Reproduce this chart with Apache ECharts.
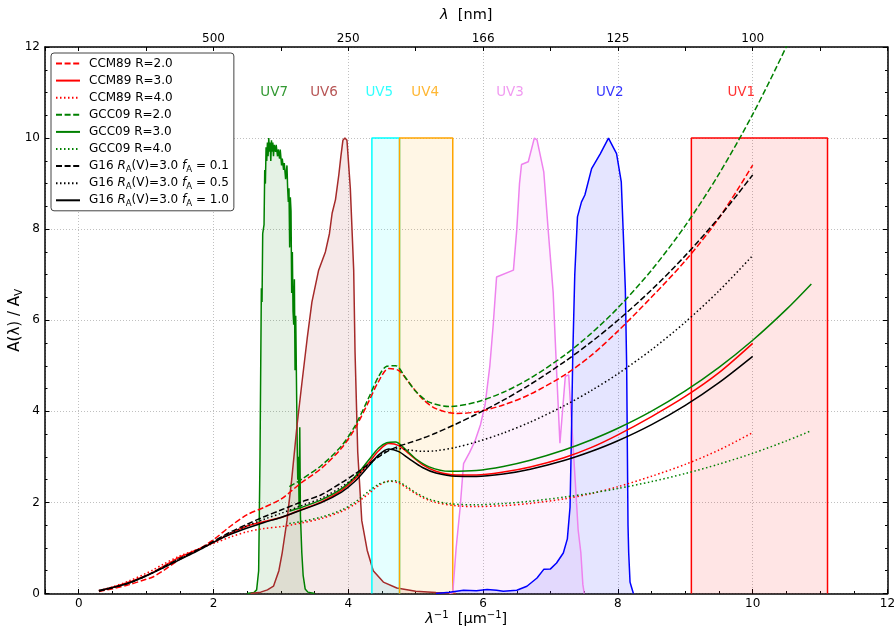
<!DOCTYPE html>
<html><head><meta charset="utf-8">
<script src="https://cdn.jsdelivr.net/npm/echarts@6/dist/echarts.min.js"></script>
<style>html,body{margin:0;padding:0;background:#fff}#c{width:895px;height:627px}</style>
</head><body><div id="c"></div>
<script>
// ---------------- data ----------------
const xCCM = [0.3,0.5,0.75,1.0,1.1,1.25,1.5,1.75,2.0,2.25,2.5,2.75,3.0,3.15,3.3,3.6,3.9,4.1,4.3,4.45,4.6,4.75,4.9,5.1,5.3,5.6,5.9,6.3,6.7,7.2,7.6,8.0,8.5,9.0,9.5,10.0];
const ccmR2 = [0.045,0.102,0.195,0.311,0.362,0.496,0.748,0.941,1.181,1.477,1.730,1.891,2.069,2.245,2.429,2.747,3.193,3.627,4.205,4.660,4.940,4.895,4.632,4.274,4.059,3.954,3.987,4.139,4.377,4.789,5.222,5.762,6.509,7.307,8.243,9.407];
const ccmR3 = [0.057,0.131,0.251,0.398,0.464,0.591,0.799,0.956,1.126,1.318,1.481,1.580,1.668,1.751,1.840,2.013,2.265,2.518,2.862,3.133,3.292,3.247,3.068,2.830,2.685,2.601,2.602,2.666,2.777,2.981,3.202,3.484,3.885,4.326,4.848,5.491];
const ccmR4 = [0.064,0.145,0.278,0.442,0.516,0.639,0.824,0.963,1.098,1.239,1.356,1.425,1.468,1.504,1.546,1.646,1.801,1.964,2.190,2.369,2.469,2.424,2.286,2.108,1.998,1.925,1.909,1.929,1.978,2.077,2.192,2.345,2.574,2.836,3.150,3.533];

const xGCC = [3.125,3.3,3.6,3.9,4.1,4.3,4.45,4.57,4.7,4.85,5.0,5.2,5.5,5.9,6.3,6.7,7.2,7.6,8.0,8.5,9.0,9.5,10.0,10.5,10.87];
const gccR2 = [2.346,2.501,2.811,3.243,3.683,4.289,4.767,4.989,5.003,4.737,4.440,4.203,4.105,4.203,4.419,4.727,5.222,5.706,6.271,7.101,8.078,9.213,10.521,12.012,13.242];
const gccR3 = [1.807,1.888,2.056,2.303,2.565,2.927,3.195,3.309,3.327,3.162,2.959,2.781,2.683,2.700,2.790,2.926,3.151,3.371,3.628,4.005,4.449,4.965,5.560,6.238,6.797];
const gccR4 = [1.537,1.581,1.678,1.833,2.006,2.241,2.399,2.454,2.474,2.365,2.214,2.070,1.972,1.949,1.975,2.026,2.115,2.203,2.306,2.457,2.635,2.841,3.079,3.351,3.575];

const xG16 = [0.3,0.5,0.75,1.0,1.25,1.5,1.75,2.0,2.25,2.5,2.75,3.0,3.3,3.6,3.9,4.1,4.3,4.45,4.6,4.75,4.9,5.1,5.3,5.6,5.9,6.3,6.7,7.2,7.6,8.0,8.5,9.0,9.5,10.0];
const g16f01 = [0.052,0.128,0.229,0.39,0.577,0.769,0.949,1.146,1.349,1.522,1.686,1.832,2.009,2.168,2.433,2.627,2.840,3.002,3.137,3.233,3.307,3.407,3.524,3.723,3.936,4.245,4.592,5.081,5.518,5.999,6.669,7.419,8.258,9.192];
const g16f05 = [0.058,0.129,0.232,0.387,0.569,0.758,0.939,1.136,1.327,1.486,1.63,1.76,1.925,2.091,2.342,2.555,2.820,3.021,3.153,3.181,3.153,3.122,3.134,3.211,3.328,3.524,3.764,4.121,4.451,4.824,5.354,5.959,6.646,7.421];
const g16f10 = [0.067,0.13,0.235,0.385,0.56,0.745,0.926,1.123,1.299,1.44,1.56,1.67,1.83,1.995,2.228,2.465,2.794,3.045,3.173,3.116,2.960,2.766,2.646,2.573,2.568,2.622,2.728,2.920,3.118,3.355,3.710,4.133,4.631,5.208];

// filter response curves (scaled to peak 10)
const uv7x = [2.50,2.60,2.64,2.67,2.69,2.71,2.72,2.73,2.75,2.76,2.77,2.78,2.79,2.80,2.81,2.82,2.83,2.84,2.85,2.86,2.87,2.88,2.89,2.90,2.92,2.93,2.95,2.96,2.98,2.99,3.01,3.02,3.04,3.05,3.07,3.09,3.10,3.11,3.12,3.13,3.14,3.15,3.16,3.17,3.18,3.19,3.20,3.21,3.22,3.23,3.24,3.25,3.26,3.27,3.28,3.29,3.31,3.33,3.36,3.40,3.50];
const uv7y = [0,0.02,0.08,0.5,3.0,6.7,6.4,7.9,8.1,9.3,9.0,9.8,9.5,9.9,9.6,10.0,9.7,9.9,9.5,9.95,9.7,9.9,9.6,9.85,9.7,9.85,9.6,9.75,9.55,9.75,9.4,9.55,9.3,9.45,9.1,9.4,8.9,8.6,8.9,7.6,8.7,8.4,6.6,7.5,6.2,5.9,6.9,4.9,6.1,4.8,3.5,2.5,3.0,1.9,3.65,1.7,0.9,0.4,0.1,0.03,0];
const uv6x = [2.55,2.70,2.80,2.89,2.97,3.02,3.09,3.16,3.24,3.31,3.39,3.46,3.56,3.66,3.72,3.76,3.81,3.86,3.89,3.92,3.95,3.98,4.03,4.08,4.10,4.14,4.20,4.28,4.37,4.52,4.72,5.00,5.30,5.60];
const uv6y = [0,0.03,0.08,0.16,0.5,0.9,1.6,2.5,3.7,4.6,5.6,6.4,7.1,7.5,7.9,8.35,8.65,9.2,9.6,9.95,10.0,9.95,8.9,7.1,5.3,3.1,1.6,0.95,0.5,0.25,0.12,0.05,0.02,0];
const uv3x = [5.50,5.55,5.60,5.66,5.71,5.80,5.88,5.96,6.03,6.10,6.15,6.20,6.45,6.50,6.54,6.57,6.67,6.76,6.80,6.90,6.97,7.04,7.09,7.14,7.22,7.27,7.32,7.37,7.41,7.45,7.48,7.50];
const uv3y = [0,0.02,1.0,1.9,2.85,3.1,3.35,3.7,4.15,5.0,5.9,6.95,7.1,8.0,9.0,9.42,9.48,10.0,9.96,9.26,7.9,6.6,4.9,3.3,4.77,4.8,3.6,2.4,1.4,0.9,0.2,0];
const uv2x = [5.30,5.50,5.71,5.90,6.06,6.20,6.30,6.50,6.65,6.80,6.90,7.00,7.09,7.19,7.25,7.29,7.31,7.33,7.36,7.40,7.46,7.51,7.61,7.74,7.86,7.98,8.05,8.08,8.11,8.13,8.15,8.16,8.18,8.20,8.23];
const uv2y = [0,0.03,0.07,0.06,0.09,0.07,0.05,0.07,0.16,0.34,0.53,0.54,0.67,0.89,1.2,1.9,3.4,5.2,7.0,8.27,8.6,8.75,9.33,9.66,10.0,9.66,9.04,7.9,6.7,5.0,1.5,0.9,0.25,0.15,0];
const uv5Box = [4.35, 4.76];
const uv4Box = [4.76, 5.55];
const uv1Box = [9.09, 11.11];
const boxTop = 10;

const uvNames   = ['UV7','UV6','UV5','UV4','UV3','UV2','UV1'];
const uvLabelX  = [2.90, 3.64, 4.46, 5.14, 6.40, 7.88, 9.83];
const uvLabelY  = 11.0;
const uvColors  = ['#008000','#a52a2a','#00ffff','#ffa500','#ee82ee','#0000ff','#ff0000'];

const topTickPos    = [2, 4, 6, 8, 10];
const topTickLabels = ['500','250','166','125','100'];

// ---------------- chart ----------------
const FONT = 'DejaVu Sans';
const pair = (xs, ys) => xs.map((x, i) => [x, ys[i]]);
const DASH = [6, 2.6], DOT = [1.5, 2.5], SOLID = 'solid';

const curveDefs = [
  {name:'CCM89 R=2.0', x:xCCM, y:ccmR2, color:'#ff0000', t:DASH},
  {name:'CCM89 R=3.0', x:xCCM, y:ccmR3, color:'#ff0000', t:SOLID},
  {name:'CCM89 R=4.0', x:xCCM, y:ccmR4, color:'#ff0000', t:DOT},
  {name:'GCC09 R=2.0', x:xGCC, y:gccR2, color:'#008000', t:DASH},
  {name:'GCC09 R=3.0', x:xGCC, y:gccR3, color:'#008000', t:SOLID},
  {name:'GCC09 R=4.0', x:xGCC, y:gccR4, color:'#008000', t:DOT},
  {name:'G16 fA=0.1',  x:xG16, y:g16f01, color:'#000000', t:DASH},
  {name:'G16 fA=0.5',  x:xG16, y:g16f05, color:'#000000', t:DOT},
  {name:'G16 fA=1.0',  x:xG16, y:g16f10, color:'#000000', t:SOLID}
];

function filterSeries(data, color) {
  return {type:'line', data, symbol:'none', silent:true, z:1, animation:false,
    lineStyle:{color, width:1.5}, itemStyle:{color},
    areaStyle:{color, opacity:0.1, origin:'start'}};
}
const boxData = b => pair([b[0], b[0], b[1], b[1]], [0, boxTop, boxTop, 0]);

const series = [
  filterSeries(pair(uv7x, uv7y), uvColors[0]),
  filterSeries(pair(uv6x, uv6y), uvColors[1]),
  filterSeries(boxData(uv5Box), uvColors[2]),
  filterSeries(boxData(uv4Box), uvColors[3]),
  filterSeries(pair(uv3x, uv3y), uvColors[4]),
  filterSeries(pair(uv2x, uv2y), uvColors[5]),
  filterSeries(boxData(uv1Box), uvColors[6])
];
curveDefs.forEach(c => series.push({
  type:'line', name:c.name, data:pair(c.x, c.y), symbol:'none', smooth:0.3,
  z:3, animation:false, clip:true,
  lineStyle:{color:c.color, width:1.5, type:c.t, cap:'butt'}, itemStyle:{color:c.color}
}));
series.push({
  type:'scatter', silent:true, z:4, symbolSize:1, itemStyle:{color:'rgba(0,0,0,0)'}, animation:false,
  data: uvNames.map((n, i) => ({name:n, value:[uvLabelX[i], uvLabelY], label:{color:uvColors[i]}})),
  label:{show:true, position:'inside', formatter:'{b}', fontFamily:FONT, fontSize:13.5}
});

const txt = (size, extra) => Object.assign({fontFamily:FONT, fontSize:size, color:'#000'}, extra || {});
const legendRich = {
  sp: {width:4},
  st: {width:0, height:16, lineHeight:16},
  n: txt(12, {lineHeight:16}),
  i: txt(12, {lineHeight:16, fontStyle:'italic'}),
  s: txt(8.5, {lineHeight:9, padding:[7,0,0,0]})
};
function legendFmt(name) {
  if (name.indexOf('G16') === 0) {
    const v = name.split('=')[1];
    return '{sp| }{st| }{n|G16 }{i|R}{s|A}{n|(V)=3.0 }{i|f}{s|A}{n| = ' + v + '}';
  }
  return '{sp| }{st| }{n|' + name + '}';
}
function fmtBottom(v) {
  const r = Math.round(v);
  return (Math.abs(v - r) < 1e-6 && r % 2 === 0 && r >= 0) ? String(r) : '';
}
function fmtTop(v) {
  const i = topTickPos.findIndex(p => Math.abs(p - v) < 1e-6);
  return i >= 0 ? topTickLabels[i] : '';
}
const spine = {show:true, onZero:false, lineStyle:{color:'#000', width:1.5}};
const gridLine = {show:true, lineStyle:{color:'#b0b0b0', width:0.8, type:[1,2]}};
const tickStyle = {color:'#000', width:1};

const option = {
  backgroundColor:'#fff',
  animation:false,
  grid:{left:45, right:7.5, top:47, bottom:33.5, containLabel:false, outerBoundsMode:'none'},
  legend:{
    data: curveDefs.map(c => c.name), left:51, top:53, orient:'vertical',
    itemWidth:24, itemHeight:16, itemGap:1.1, padding:[2.5,5,2.5,4],
    borderColor:'#444', borderWidth:1, borderRadius:3, backgroundColor:'#fff',
    itemStyle:{opacity:0},
    selectedMode:false, formatter:legendFmt, textStyle:{rich:legendRich}, z:10
  },
  xAxis:[
    { type:'value', position:'bottom', min:-0.5, max:12, minInterval:2, maxInterval:2, splitNumber:6,
      axisLine:spine, axisTick:{show:true, inside:true, length:4.5, lineStyle:tickStyle},
      axisLabel:{show:true, margin:4, formatter:fmtBottom, fontFamily:FONT, fontSize:12, color:'#000'},
      splitLine:gridLine,
      name:'{i|λ}{sup|−1}{n|  [μm}{sup|−1}{n|]}', nameLocation:'middle', nameGap:17, nameMoveOverlap:false,
      nameTextStyle:{rich:{
        i:txt(14.5,{fontStyle:'italic', lineHeight:18}),
        n:txt(14.5,{lineHeight:18}),
        sup:txt(10,{lineHeight:10, padding:[0,0,8,0]})}}
    },
    { type:'value', position:'bottom', min:-0.5, max:12, interval:0.5,
      axisLine:{show:false, onZero:false}, axisTick:{show:true, inside:true, length:2.5, lineStyle:tickStyle},
      axisLabel:{show:false}, splitLine:{show:false} },
    { type:'value', position:'top', min:-0.5, max:12, minInterval:1, maxInterval:1, splitNumber:12,
      axisLine:spine, axisTick:{show:true, inside:true, length:4, lineStyle:tickStyle},
      axisLabel:{show:true, margin:2, formatter:fmtTop, fontFamily:FONT, fontSize:12, color:'#000'},
      splitLine:{show:false},
      name:'{i|λ}{n|  [nm]}', nameLocation:'middle', nameGap:23, nameMoveOverlap:false,
      nameTextStyle:{rich:{
        i:txt(14.5,{fontStyle:'italic', lineHeight:18}),
        n:txt(14.5,{lineHeight:18})}}
    }
  ],
  yAxis:[
    { type:'value', position:'left', min:0, max:12, interval:2,
      axisLine:spine, axisTick:{show:true, inside:true, length:4.5, lineStyle:tickStyle},
      minorTick:{show:true, splitNumber:4, length:2.5, lineStyle:tickStyle},
      axisLabel:{show:true, margin:5, fontFamily:FONT, fontSize:12, color:'#000'},
      splitLine:gridLine,
      name:'{n|A(λ) / A}{sub|V}', nameLocation:'middle', nameRotate:90, nameGap:21, nameMoveOverlap:false,
      nameTextStyle:{rich:{
        n:txt(15,{lineHeight:18}),
        sub:txt(10.5,{lineHeight:10, padding:[8,0,0,0]})}}
    },
    { type:'value', position:'right', min:0, max:12, interval:2,
      axisLine:spine, axisTick:{show:true, inside:true, length:4.5, lineStyle:tickStyle},
      minorTick:{show:true, splitNumber:4, length:2.5, lineStyle:tickStyle},
      axisLabel:{show:false}, splitLine:{show:false} }
  ],
  series
};
const chart = echarts.init(document.getElementById('c'), null, {renderer:'canvas'});
chart.setOption(option);
</script>
</body></html>
